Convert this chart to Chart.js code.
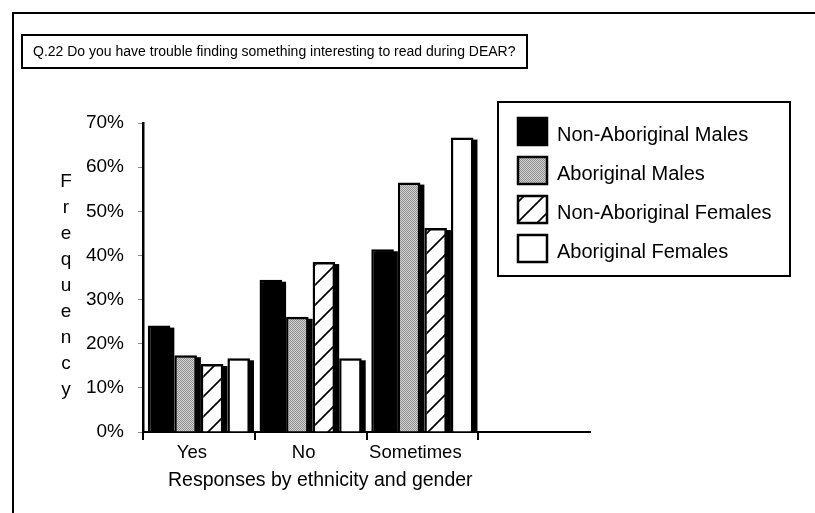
<!DOCTYPE html>
<html>
<head>
<meta charset="utf-8">
<title>Q.22 DEAR reading survey</title>
<script src="https://cdn.jsdelivr.net/npm/chart.js@4.4.1/dist/chart.umd.min.js"></script>
<style>
  html, body { margin: 0; padding: 0; background: #fff; }
  #c { display: block; }
</style>
</head>
<body>
<canvas id="c" width="815" height="513"></canvas>
<script>
// ---- data ----
const QUESTION = 'Q.22 Do you have trouble finding something interesting to read during DEAR?';
const X_TITLE = 'Responses by ethnicity and gender';
const Y_TITLE = 'Frequency';
const CATEGORIES = ['Yes', 'No', 'Sometimes', ''];
const SERIES_NAMES = ['Non-Aboriginal Males', 'Aboriginal Males', 'Non-Aboriginal Females', 'Aboriginal Females'];
const NON_ABORIGINAL_MALES = [24.1, 34.5, 41.4];
const ABORIGINAL_MALES = [17.4, 26.1, 56.5];
const NON_ABORIGINAL_FEMALES = [15.4, 38.5, 46.2];
const ABORIGINAL_FEMALES = [16.7, 16.7, 66.7];
const Y_MIN = 0, Y_MAX = 70, Y_STEP = 10;

const FONT = '"Liberation Sans", Arial, Helvetica, sans-serif';

// ---- fills ----
function hatchFill() {
  const c = document.createElement('canvas');
  c.width = 20; c.height = 20;
  const g = c.getContext('2d');
  g.fillStyle = '#fff';
  g.fillRect(0, 0, 20, 20);
  g.strokeStyle = '#000';
  g.lineWidth = 1.7;
  g.beginPath();
  g.moveTo(-2, 22); g.lineTo(22, -2);
  g.moveTo(-2, 2); g.lineTo(2, -2);
  g.moveTo(18, 22); g.lineTo(22, 18);
  g.stroke();
  return g.createPattern(c, 'repeat');
}
function stippleFill() {
  const c = document.createElement('canvas');
  c.width = 2; c.height = 2;
  const g = c.getContext('2d');
  g.fillStyle = '#d4d4d4'; g.fillRect(0, 0, 2, 2);
  g.fillStyle = '#8e8e8e'; g.fillRect(0, 0, 1, 1); g.fillRect(1, 1, 1, 1);
  return g.createPattern(c, 'repeat');
}
const FILLS = ['#000', stippleFill(), hatchFill(), '#fff'];
const VALUES = [NON_ABORIGINAL_MALES, ABORIGINAL_MALES, NON_ABORIGINAL_FEMALES, ABORIGINAL_FEMALES];

// ---- drop shadow to the right of every bar ----
const barShadow = {
  id: 'barShadow',
  beforeDatasetDraw(chart, args) {
    const ctx = chart.ctx;
    ctx.save();
    ctx.fillStyle = '#000';
    args.meta.data.forEach(bar => {
      const p = bar.getProps(['x', 'y', 'base', 'width'], true);
      const h = p.base - p.y - 2;
      if (h > 0) ctx.fillRect(p.x - p.width / 2 + 4, p.y + 2, p.width, h);
    });
    ctx.restore();
  }
};

// ---- frame, question box, legend box and axis titles ----
const decorations = {
  id: 'decorations',
  afterDraw(chart) {
    const ctx = chart.ctx;
    ctx.save();
    ctx.strokeStyle = '#000';
    ctx.fillStyle = '#000';

    // outer frame (top and left edges)
    ctx.lineWidth = 2;
    ctx.beginPath();
    ctx.moveTo(815, 13); ctx.lineTo(13, 13); ctx.lineTo(13, 513);
    ctx.stroke();

    // question box
    ctx.strokeRect(22, 35, 505, 33);
    ctx.font = '14px ' + FONT;
    ctx.textBaseline = 'middle';
    ctx.textAlign = 'left';
    ctx.fillText(QUESTION, 33, 52);

    // legend box
    const lx = 498, ly = 102, lw = 292, lh = 174;
    ctx.lineWidth = 2;
    ctx.strokeRect(lx, ly, lw, lh);
    ctx.font = '20px ' + FONT;
    chart.data.datasets.forEach((ds, i) => {
      const cy = ly + 29 + i * 39;
      ctx.fillStyle = ds.backgroundColor;
      ctx.fillRect(518, cy - 13, 29, 27);
      ctx.lineWidth = 2.5;
      ctx.strokeRect(518, cy - 13, 29, 27);
      ctx.fillStyle = '#000';
      ctx.fillText(ds.label, 557, cy + 4);
    });

    // y-axis title, one letter per line
    ctx.textAlign = 'center';
    ctx.textBaseline = 'alphabetic';
    ctx.font = '19px ' + FONT;
    Y_TITLE.split('').forEach((ch, i) => ctx.fillText(ch, 66, 187 + i * 26));

    // x-axis title
    ctx.textAlign = 'left';
    ctx.textBaseline = 'middle';
    ctx.font = '19.5px ' + FONT;
    ctx.fillText(X_TITLE, 168, 481);
    ctx.restore();
  }
};

new Chart(document.getElementById('c'), {
  type: 'bar',
  data: {
    labels: CATEGORIES,
    datasets: SERIES_NAMES.map((name, i) => ({
      label: name,
      data: VALUES[i],
      backgroundColor: FILLS[i],
      borderColor: '#000',
      borderWidth: 2.5,
      borderSkipped: 'start',
      categoryPercentage: 0.95,
      barPercentage: 0.85
    }))
  },
  options: {
    responsive: false,
    animation: false,
    layout: { padding: { left: 0, top: 123, right: 225, bottom: 0 } },
    plugins: { legend: { display: false }, tooltip: { enabled: false } },
    scales: {
      x: {
        grid: {
          offset: true,
          drawOnChartArea: false,
          tickLength: 8,
          lineWidth: 2,
          color: c => (c.type === 'tick' ? '#000' : 'rgba(0,0,0,0)')
        },
        border: { color: '#000', width: 2 },
        ticks: { color: '#000', font: { family: FONT, size: 18.5 }, padding: 2, labelOffset: -7, maxRotation: 0, autoSkip: false },
        afterFit: s => { s.height = 81; }
      },
      y: {
        min: Y_MIN,
        max: Y_MAX,
        ticks: { stepSize: Y_STEP, callback: v => v + '%', color: '#000', font: { family: FONT, size: 19 }, padding: 14 },
        grid: { drawOnChartArea: false, tickLength: 5, color: '#8a8a8a', lineWidth: 1 },
        border: { color: '#000', width: 2.5 },
        afterFit: s => { s.width = 143; }
      }
    }
  },
  plugins: [barShadow, decorations]
});
</script>
</body>
</html>
